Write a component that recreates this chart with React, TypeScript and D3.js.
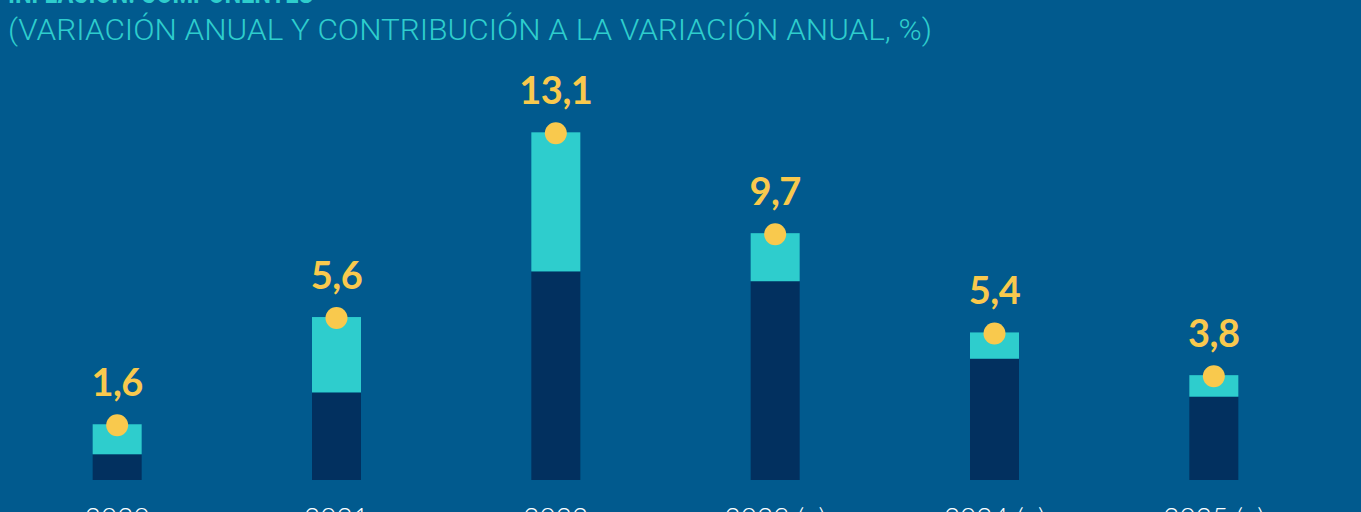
import React from "react";
import * as d3 from "d3";

const categories = ["2020", "2021", "2022", "2023 (p)", "2024 (p)", "2025 (p)"];
const coreValues = [0.97, 3.3, 7.86, 7.49, 4.57, 3.14];
const otherValues = [1.13, 2.84, 5.24, 1.81, 0.99, 0.81];
const totalLabels = ["1,6", "5,6", "13,1", "9,7", "5,4", "3,8"];

const W = 1361;
const H = 512;
const BG = "#015A8E";
const NAVY = "#02305F";
const CYAN = "#2ECDCD";
const YELLOW = "#F9C94D";

export default function App() {
  const x = d3.scaleBand<string>().domain(categories).range([7.5, 1323.5]);
  const y = d3.scaleLinear().domain([0, 14]).range([480, 480 - 14 * 26.54]);
  const barW = 49;
  const stack = categories.map((c, i) => ({
    c,
    core: coreValues[i],
    other: otherValues[i],
    total: coreValues[i] + otherValues[i],
    label: totalLabels[i],
  }));
  return (
    <div style={{ position: "fixed", left: 0, top: 0, width: W, height: H, background: BG }}>
      <svg width={W} height={H} style={{ display: "block" }}>
        <rect x={0} y={0} width={W} height={H} fill={BG} />
        <text x={8} y={3} fill={CYAN} fontFamily="Roboto" fontWeight={700} fontSize={28} textLength={305} lengthAdjust="spacingAndGlyphs">
          INFLACIÓN: COMPONENTES
        </text>
        <text x={8} y={40} fill={CYAN} fontFamily="Roboto" fontWeight={300} fontSize={29} textLength={924} lengthAdjust="spacingAndGlyphs">
          (VARIACIÓN ANUAL Y CONTRIBUCIÓN A LA VARIACIÓN ANUAL, %)
        </text>
        {stack.map((d) => {
          const cx = (x(d.c) as number) + x.bandwidth() / 2;
          return (
            <g key={d.c}>
              <rect x={cx - barW / 2} y={y(d.core)} width={barW} height={y(0) - y(d.core)} fill={NAVY} />
              <rect x={cx - barW / 2} y={y(d.total)} width={barW} height={y(d.core) - y(d.total)} fill={CYAN} />
              <circle cx={cx} cy={y(d.total) + 1} r={11} fill={YELLOW} />
              <text x={cx} y={y(d.total) - 28} textAnchor="middle" fill={YELLOW} fontFamily="Lato" fontWeight={700} fontSize={38} letterSpacing={-0.5}>
                {d.label}
              </text>
              <text x={cx} y={528} textAnchor="middle" fill="#FFFFFF" fontFamily="Lato" fontWeight={300} fontSize={28}>
                {d.c}
              </text>
            </g>
          );
        })}
      </svg>
    </div>
  );
}
